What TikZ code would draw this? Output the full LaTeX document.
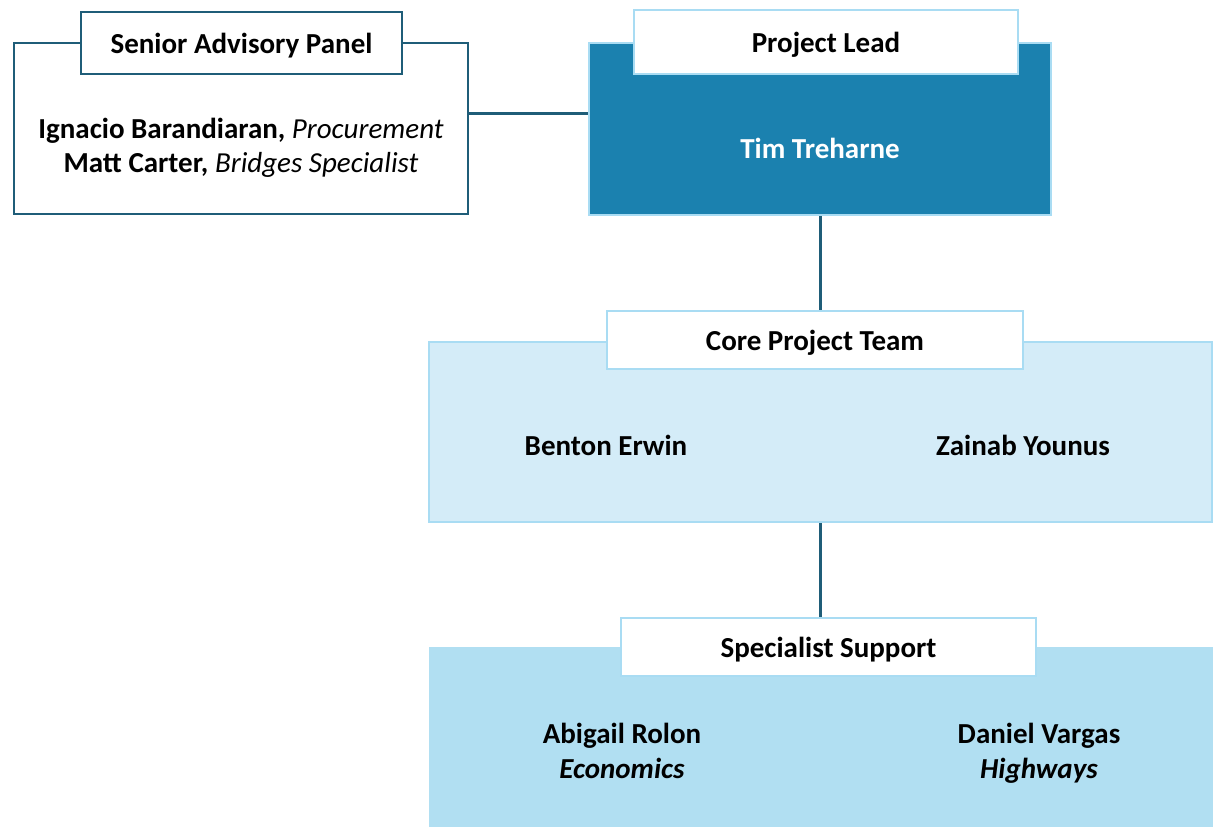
\documentclass[tikz,border=0pt]{standalone}
\usepackage{fontspec}
\setmainfont{Carlito}
\usetikzlibrary{positioning}

\definecolor{darkline}{HTML}{1F5D78}
\definecolor{lightline}{HTML}{A9DCF3}
\definecolor{leadfill}{HTML}{1B81AF}
\definecolor{corefill}{HTML}{D4ECF8}
\definecolor{specfill}{HTML}{B1DFF2}

\begin{document}
\begin{tikzpicture}[x=0.5pt, y=-0.5pt,
    box/.style={draw, rectangle, inner sep=0pt, line width=1pt},
    titlebox/.style={box, fill=white, font=\fontsize{14.5}{17}\selectfont\bfseries,
        text height=12.5pt, text depth=2pt},
    person/.style={font=\fontsize{14.5}{17.5}\selectfont\bfseries, align=center},
    link/.style={darkline, line width=1.5pt}]
    \useasboundingbox (0,0) rectangle (1215,826);

    % Senior advisory panel
    \node[box, draw=darkline, fill=white, minimum width=227pt, minimum height=85.5pt] (adv) at (241,128.5) {};
    \node[titlebox, draw=darkline, minimum width=160.5pt, minimum height=31pt] (advtitle) at (241.5,43) {Senior Advisory Panel};
    \node[person, font=\fontsize{14.5}{17}\selectfont] (advnames) at (241,148)
        {\textbf{Ignacio Barandiaran,} \textit{Procurement}\\ \textbf{Matt Carter,} \textit{Bridges Specialist}};

    % Project lead
    \node[box, draw=lightline, fill=leadfill, minimum width=231pt, minimum height=86pt] (lead) at (820,129) {};
    \node[titlebox, draw=lightline, minimum width=192pt, minimum height=32pt] (leadtitle) at (826,42) {Project Lead};
    \node[person, text=white] (tim) at (820,148) {Tim Treharne};

    % Core project team
    \node[box, draw=lightline, fill=corefill, minimum width=391.5pt, minimum height=90pt] (core) at (820.5,432) {};
    \node[titlebox, draw=lightline, minimum width=208pt, minimum height=29pt] (coretitle) at (815,340) {Core Project Team};
    \node[person] (benton) at (606,445) {Benton Erwin};
    \node[person] (zainab) at (1023,445) {Zainab Younus};

    % Specialist support
    \node[box, draw=specfill, fill=specfill, minimum width=391pt, minimum height=91pt] (spec) at (821,739) {};
    \node[titlebox, draw=lightline, minimum width=207.5pt, minimum height=29pt] (spectitle) at (828.5,647) {Specialist Support};
    \node[person] (abigail) at (622,751) {Abigail Rolon\\ \textit{Economics}};
    \node[person] (daniel) at (1039,753) {Daniel Vargas\\ \textit{Highways}};

    % Connectors
    \draw[link] ([yshift=7.75pt]adv.east) -- ([yshift=8pt]lead.west);
    \draw[link] (lead.south) -- (lead.south |- coretitle.north);
    \draw[link] (core.south) -- (core.south |- spectitle.north);
\end{tikzpicture}
\end{document}
